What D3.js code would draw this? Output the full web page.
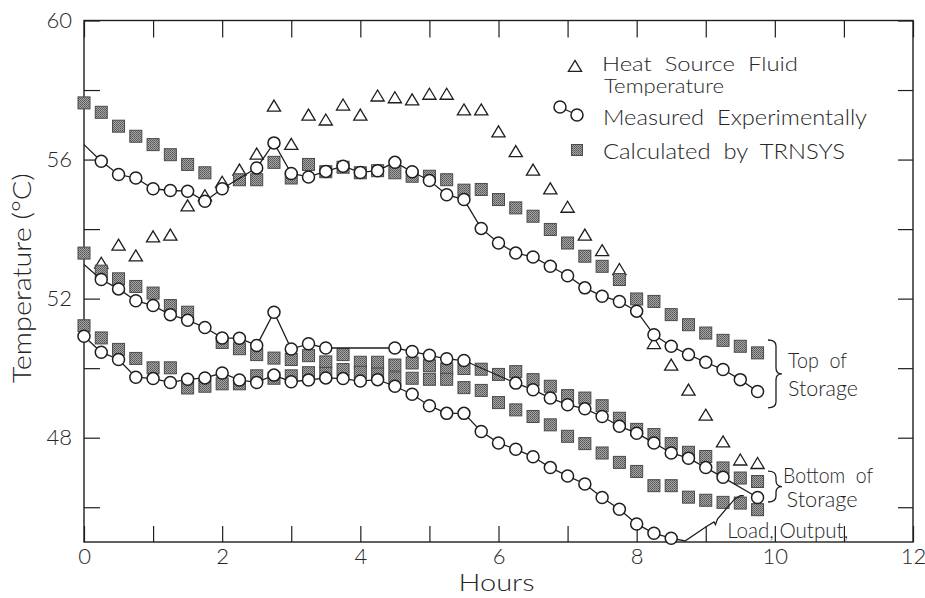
<!DOCTYPE html>
<html>
<head>
<meta charset="utf-8">
<script src="https://cdn.jsdelivr.net/npm/d3@7"></script>
<style>
  html, body { margin: 0; padding: 0; background: #fff; }
  svg { display: block; font-family: Lato, "DejaVu Sans", sans-serif; font-weight: 300; }
  text { white-space: pre; }
</style>
</head>
<body>
<svg id="chart" width="925" height="598"></svg>
<script>
// Sampling every 15 minutes, 0 to 9.75 h
const hours = d3.range(40).map(i => i * 0.25);

// Heat source fluid temperature (°C)
const heatSource = [null,53.03,53.55,53.24,53.79,53.84,54.68,54.97,55.36,55.71,
  56.17,57.55,56.45,57.29,57.15,57.58,57.29,57.84,57.79,57.73,
  57.89,57.89,57.44,57.44,56.81,56.24,55.71,55.17,54.64,53.84,
  53.39,52.85,null,50.72,50.10,49.38,48.66,47.89,47.37,47.27];

// Measured: top of storage, bottom of storage, load output (°C)
const measuredTopStart = 56.43;
const measuredTop = [null,55.95,55.57,55.47,55.16,55.11,55.09,54.80,55.16,null,
  55.76,56.48,55.60,55.50,55.66,55.81,55.63,55.68,55.92,55.65,
  55.40,54.99,54.85,54.02,53.60,53.31,53.20,52.93,52.66,52.31,
  52.07,51.92,51.64,50.96,50.63,50.39,50.17,49.96,49.67,49.33];
const measuredBottomStart = 52.98;
const measuredBottom = [null,52.55,52.28,51.94,51.80,51.54,51.38,51.17,50.87,50.86,
  50.65,51.61,50.55,50.70,50.58,null,null,null,50.58,50.48,
  50.37,50.27,50.22,null,null,49.57,49.38,49.14,48.95,48.83,
  48.61,48.33,48.13,47.85,47.56,47.41,47.14,46.86,null,46.28];
const measuredLoad = [50.92,50.46,50.25,49.74,49.70,49.59,49.68,49.72,49.86,49.66,
  49.59,49.80,49.61,49.66,49.72,49.70,49.63,49.67,49.48,49.25,
  48.92,48.70,48.70,48.18,47.85,47.67,47.45,47.14,46.90,46.67,
  46.28,45.94,45.52,45.25,45.11,null,null,null,null,null];

// Calculated by TRNSYS: top, bottom, load (°C)
const trnsysTop = [57.63,57.36,56.96,56.67,56.43,56.14,55.86,55.62,null,55.42,
  55.42,55.92,55.47,55.86,55.65,55.78,55.62,55.68,55.62,55.52,
  55.52,55.42,55.12,55.14,54.85,54.61,54.37,53.99,53.60,53.22,
  52.93,52.55,51.99,51.92,51.54,51.25,51.01,50.80,50.63,50.44];
const trnsysBottom = [53.31,52.79,52.57,52.35,52.16,51.80,51.61,null,50.74,50.56,
  50.39,50.29,50.25,50.36,50.18,50.39,50.17,50.17,50.09,50.15,
  50.07,49.98,49.99,49.97,49.82,49.90,49.67,49.48,49.21,49.14,
  48.92,48.56,48.24,48.09,47.83,47.58,47.46,47.13,46.84,46.74];
const trnsysLoad = [51.22,50.87,50.54,50.28,50.01,50.01,49.43,49.48,49.55,49.55,
  49.78,49.71,49.78,49.87,49.85,49.96,49.88,49.83,49.72,49.71,
  49.68,49.68,49.44,49.36,49.01,48.80,48.61,48.37,48.04,47.83,
  47.56,47.29,47.03,46.62,46.62,46.29,46.20,46.14,46.12,45.93];

// Axis ticks
const xTicks = d3.range(0, 13, 1);
const xLabels = [0, 2, 4, 6, 8, 10, 12];
const yTicks = d3.range(46, 61, 2);
const yLabels = [48, 52, 56, 60];

const legendLabels = ["Heat  Source  Fluid", "Temperature", "Measured  Experimentally", "Calculated  by  TRNSYS"];

// ---------------------------------------------------------------------------
const svg = d3.select("#chart");
const ink = "#1e1e1e";
const textInk = "#262626";

const x = d3.scaleLinear().domain([0, 12]).range([84, 913]);
const y = d3.scaleLinear().domain([45, 60]).range([542, 20.5]);

// stippled grey fill for the TRNSYS squares
const defs = svg.append("defs");
const pat = defs.append("pattern").attr("id", "stipple")
  .attr("width", 2).attr("height", 2).attr("patternUnits", "userSpaceOnUse");
pat.append("rect").attr("width", 2).attr("height", 2).attr("fill", "#a6a6a6");
pat.append("rect").attr("width", 1).attr("height", 1).attr("fill", "#555");
pat.append("rect").attr("x", 1).attr("y", 1).attr("width", 1).attr("height", 1).attr("fill", "#666");

const pts = arr => hours.map((h, i) => ({ h, v: arr[i] })).filter(d => d.v != null);

// frame
svg.append("rect")
  .attr("x", x(0)).attr("y", y(60))
  .attr("width", x(12) - x(0)).attr("height", y(45) - y(60))
  .attr("fill", "none").attr("stroke", ink).attr("stroke-width", 1.4);

// axes with inward ticks
function styleAxis(g) {
  g.select(".domain").remove();
  g.selectAll(".tick line").attr("stroke", ink).attr("stroke-width", 1.2);
  g.selectAll(".tick text").attr("fill", textInk).attr("font-size", 22)
    .attr("font-family", "Lato, 'DejaVu Sans', sans-serif").attr("font-weight", 300);
}
svg.append("g").attr("transform", `translate(0,${y(45)})`)
  .call(d3.axisBottom(x).tickValues(xTicks).tickSize(-16).tickSizeOuter(0).tickPadding(6)
    .tickFormat(d => xLabels.includes(d) ? d : ""))
  .call(styleAxis);
svg.append("g").attr("transform", `translate(0,${y(60)})`)
  .call(d3.axisTop(x).tickValues(xTicks).tickSize(-17).tickSizeOuter(0).tickFormat(""))
  .call(styleAxis);
svg.append("g").attr("transform", `translate(${x(0)},0)`)
  .call(d3.axisLeft(y).tickValues(yTicks).tickSize(-16).tickSizeOuter(0).tickPadding(12)
    .tickFormat(d => yLabels.includes(d) ? d : ""))
  .call(styleAxis);
svg.append("g").attr("transform", `translate(${x(12)},0)`)
  .call(d3.axisRight(y).tickValues(yTicks).tickSize(-15).tickSizeOuter(0).tickFormat(""))
  .call(styleAxis);

// axis titles
svg.append("text").attr("x", (x(0) + x(12)) / 2 - 2).attr("y", 591)
  .attr("text-anchor", "middle").attr("font-size", 24).attr("fill", textInk)
  .attr("textLength", 76).attr("lengthAdjust", "spacingAndGlyphs")
  .text("Hours");
svg.append("text").attr("transform", `translate(31,${(y(45) + y(60)) / 2 - 3}) rotate(-90)`)
  .attr("text-anchor", "middle").attr("font-size", 25).attr("fill", textInk)
  .attr("textLength", 210).attr("lengthAdjust", "spacingAndGlyphs")
  .text("Temperature (°C)");

// marker shapes
const triPath = "M0,-5.6L6.6,5.4L-6.6,5.4Z";
const sq = 12, rC = 6;

function drawTriangles(arr) {
  svg.append("g").selectAll("path").data(pts(arr)).join("path")
    .attr("d", triPath)
    .attr("transform", d => `translate(${x(d.h)},${y(d.v)})`)
    .attr("fill", "#fff").attr("stroke", ink).attr("stroke-width", 1.3);
}
function drawSquares(arr) {
  svg.append("g").selectAll("rect").data(pts(arr)).join("rect")
    .attr("x", d => x(d.h) - sq / 2).attr("y", d => y(d.v) - sq / 2)
    .attr("width", sq).attr("height", sq)
    .attr("fill", "url(#stipple)").attr("stroke", "#4a4a4a").attr("stroke-width", 1);
}
const line = d3.line().x(d => x(d.h)).y(d => y(d.v));
function drawMeasured(arr, start) {
  const p = pts(arr);
  const path = start != null ? [{ h: 0, v: start }, ...p] : p;
  svg.append("path").datum(path).attr("d", line)
    .attr("fill", "none").attr("stroke", ink).attr("stroke-width", 1.3);
  svg.append("g").selectAll("circle").data(p).join("circle")
    .attr("cx", d => x(d.h)).attr("cy", d => y(d.v)).attr("r", rC)
    .attr("fill", "#fff").attr("stroke", ink).attr("stroke-width", 1.5);
}

drawTriangles(heatSource);
drawSquares(trnsysTop);
drawSquares(trnsysBottom);
drawSquares(trnsysLoad);

// leader from the load curve up to its label
const loadEnd = pts(measuredLoad).slice(-1)[0];
const leader = [[loadEnd.h, loadEnd.v], [8.70, 45.03], [9.00, 45.43], [9.12, 45.58],
  [9.14, 45.50], [9.17, 45.66], [9.42, 46.24], [9.50, 46.33], [9.55, 46.33]];
svg.append("path").datum(leader)
  .attr("d", d3.line().x(d => x(d[0])).y(d => y(d[1])))
  .attr("fill", "none").attr("stroke", ink).attr("stroke-width", 1.3);

drawMeasured(measuredLoad, null);
drawMeasured(measuredBottom, measuredBottomStart);
drawMeasured(measuredTop, measuredTopStart);

// curly braces grouping the end points
function brace(xh, vTop, vBot) {
  const x0 = x(xh), y0 = y(vTop), y1 = y(vBot), ym = (y0 + y1) / 2, w = 6;
  const p = d3.path();
  p.moveTo(x0 - 2, y0);
  p.quadraticCurveTo(x0 + w, y0, x0 + w, y0 + 6);
  p.lineTo(x0 + w, ym - 6);
  p.quadraticCurveTo(x0 + w, ym, x0 + w + 6, ym);
  p.quadraticCurveTo(x0 + w, ym, x0 + w, ym + 6);
  p.lineTo(x0 + w, y1 - 6);
  p.quadraticCurveTo(x0 + w, y1, x0 - 2, y1);
  svg.append("path").attr("d", p.toString())
    .attr("fill", "none").attr("stroke", ink).attr("stroke-width", 1.3);
}
brace(9.93, 50.81, 48.86);
brace(9.93, 47.04, 46.15);

// annotation labels
const note = (txt, h, v, len) => svg.append("text")
  .attr("x", x(h)).attr("y", y(v)).attr("font-size", 21).attr("fill", textInk)
  .attr("textLength", len).attr("lengthAdjust", "spacingAndGlyphs").text(txt);
note("Top  of", 10.19, 50.0, 59);
note("Storage", 10.19, 49.2, 70);
note("Bottom  of", 10.12, 46.70, 90);
note("Storage", 10.17, 46.01, 71);
note("Load, Output,", 9.31, 45.12, 121);

// legend
const lg = svg.append("g");
lg.append("path").attr("d", triPath).attr("transform", "translate(575,66)")
  .attr("fill", "#fff").attr("stroke", ink).attr("stroke-width", 1.3);
lg.append("line").attr("x1", 560).attr("y1", 107).attr("x2", 577).attr("y2", 115)
  .attr("stroke", ink).attr("stroke-width", 1.3);
lg.selectAll("circle.lg").data([[560, 107], [577, 115]]).join("circle")
  .attr("cx", d => d[0]).attr("cy", d => d[1]).attr("r", rC)
  .attr("fill", "#fff").attr("stroke", ink).attr("stroke-width", 1.5);
lg.append("rect").attr("x", 577 - 5.5).attr("y", 150 - 5.5).attr("width", 11).attr("height", 11)
  .attr("fill", "url(#stipple)").attr("stroke", "#4a4a4a");
const legendText = [
  { t: legendLabels[0], x: 602, y: 71, len: 196, fs: 20 },
  { t: legendLabels[1], x: 604, y: 93, len: 120, fs: 19 },
  { t: legendLabels[2], x: 603, y: 125, len: 264, fs: 21 },
  { t: legendLabels[3], x: 603, y: 159, len: 242, fs: 21 }
];
lg.selectAll("text").data(legendText).join("text")
  .attr("x", d => d.x).attr("y", d => d.y).attr("font-size", d => d.fs).attr("fill", textInk)
  .attr("textLength", d => d.len).attr("lengthAdjust", "spacingAndGlyphs")
  .text(d => d.t);
</script>
</body>
</html>
